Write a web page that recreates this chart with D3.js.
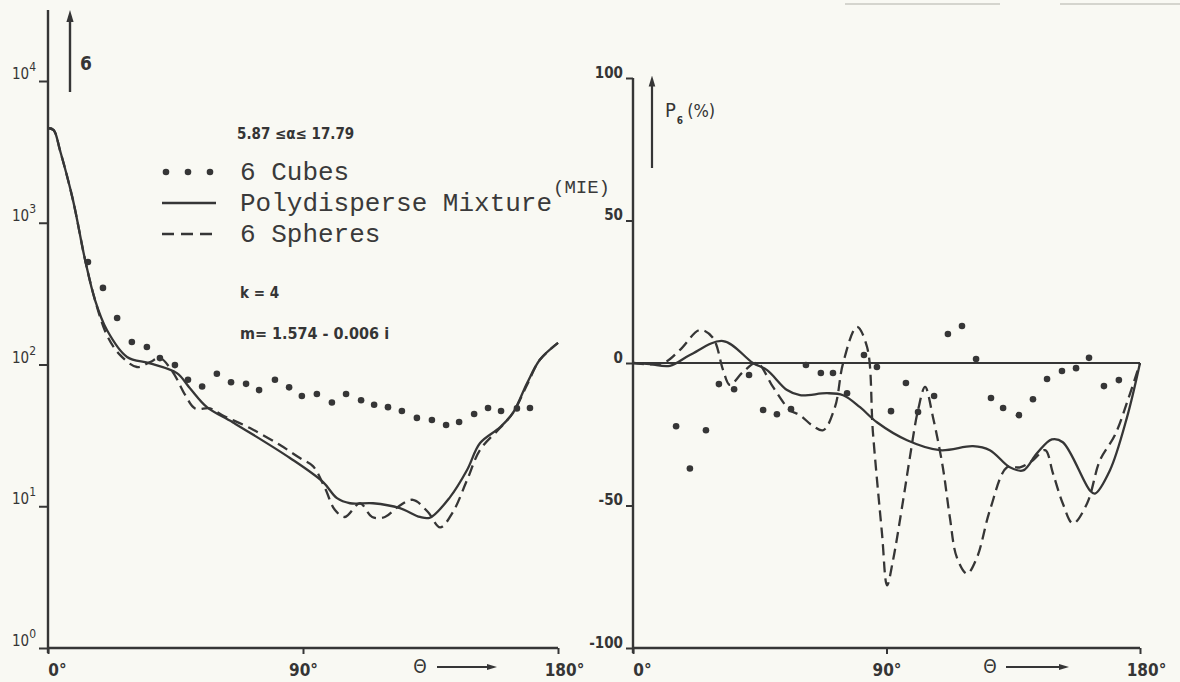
<!DOCTYPE html>
<html>
<head>
<meta charset="utf-8">
<script src="https://cdn.jsdelivr.net/npm/d3@7"></script>
<style>
  body { margin: 0; background: #f9f9f3; }
  svg { display: block; }
  .tick-label { font-family: "DejaVu Sans Condensed", "DejaVu Sans", sans-serif; font-weight: bold; fill: #353535; }
  .legend-text { font-family: "Liberation Mono", "DejaVu Sans Mono", monospace; fill: #3a3a3a; }
</style>
</head>
<body>
<svg width="1180" height="682"></svg>
<script>
"use strict";
// ---- data ----
// left panel: sigma (log) against scattering angle theta
const solidLeftTheta = [0, 2, 4.2, 8.8, 13.1, 16.6, 20.8, 27.9, 36, 45.5, 50.1, 56.1, 65.3, 85.4, 97.1, 102, 106.6, 114.7, 124.2, 131.3, 134.8, 141.9, 147.9, 152.5, 159.5, 164.1, 169.1, 173.6, 180];
const solidLeftValue = [4660, 4500, 3260, 1450, 546, 285, 175, 113, 102, 87, 68, 50, 39, 21.9, 14.8, 11.4, 10.5, 10.5, 9.7, 8.4, 8.3, 11.6, 18, 27.9, 36, 45.5, 74, 108, 142];
const dashedLeftTheta = [0, 2, 4.2, 8.8, 13.1, 16.6, 20.8, 25.4, 31.4, 36, 39.5, 44.1, 48.4, 51.9, 57.2, 61.4, 71.3, 81.9, 88.9, 93.5, 97.7, 101.3, 104.8, 110.1, 114.4, 118.9, 123.5, 128.8, 134.1, 138.4, 142.9, 147.9, 152.5, 159.5, 164.1, 169.1, 173.6, 180];
const dashedLeftValue = [4660, 4500, 3260, 1450, 546, 285, 161, 117, 96, 104, 111, 88, 61, 49, 49, 44, 35.6, 27, 21.9, 19.2, 13.5, 9.4, 8.4, 10.5, 8.4, 8.4, 9.9, 11.1, 9.1, 7.1, 9.1, 15.3, 25, 35.6, 45.5, 72, 108, 142];
const cubesLeftTheta = [14.1, 19.4, 24.4, 29.6, 34.9, 39.5, 44.8, 49.4, 54.4, 59.6, 64.6, 69.9, 74.5, 80.1, 85.1, 89.6, 94.9, 100.2, 105.2, 110.5, 115.1, 120, 124.9, 130.2, 135.5, 140.5, 145.1, 150.4, 155.3, 159.9, 165.5, 170.1];
const cubesLeftValue = [529, 347, 213, 144, 133, 111, 99, 78, 70, 86, 75, 73, 66, 78, 69, 60, 62, 54, 62, 56, 52, 50, 47, 42, 40.6, 37.4, 39.3, 44.8, 49.3, 47, 49, 49.3];

// right panel: polarisation P (%) against theta
const solidRightTheta = [0, 6, 13.1, 20.2, 32, 42.6, 47.6, 54.7, 59.3, 68.9, 74.6, 80.6, 86.6, 97.3, 109, 120.7, 126.7, 133.8, 138.5, 143.4, 148.7, 152.6, 162.2, 164, 169.3, 175.4, 180];
const solidRightValue = [0, -0.4, -1, 2.8, 7.7, 0, -2.5, -9.5, -11.3, -10.6, -11.3, -15.5, -20.8, -27.1, -30.6, -29.2, -30.6, -36.6, -37.7, -31.7, -26.8, -27.8, -44.7, -45.8, -37.7, -19, 0];
const dashedRightTheta = [0, 10.7, 16.7, 23.8, 28.4, 32, 34.4, 39, 44, 49.7, 55.7, 59.3, 63.5, 67.5, 71.7, 74.6, 79.5, 83.1, 85.2, 88.4, 90.2, 92.3, 95.9, 98.3, 101.2, 103.7, 106.5, 110, 112.5, 115, 118.6, 122.1, 126.7, 132.8, 137.4, 142, 146.3, 149.1, 152.6, 156.2, 161.2, 165.8, 171.1, 175.7, 180];
const dashedRightValue = [0, 0, 4.6, 11.6, 8.8, -2.5, -7.7, -3.2, 0, -8.4, -16.5, -18.3, -21.8, -23.6, -15.5, 0, 12.7, 5.6, -24.6, -59.8, -78, -69.3, -48.2, -33.1, -16.5, -8.4, -19, -36.6, -54.2, -68.3, -73.9, -68.3, -51.7, -36.6, -36.6, -34.1, -30.6, -38.7, -49.3, -56.3, -49.3, -34.1, -25.3, -13, 0];
const cubesRightTheta = [15.3, 20.2, 25.9, 30.5, 35.9, 41.2, 46.2, 51.1, 56.1, 61.4, 66.7, 71, 76, 82, 86.6, 91.6, 96.9, 101.2, 106.9, 111.8, 116.8, 121.8, 127.1, 131.4, 137, 142, 147, 152.3, 157.3, 161.9, 167.2, 172.5];
const cubesRightValue = [-22.2, -37, -23.6, -7.4, -9.2, -4.2, -16.5, -18, -16.2, -0.7, -3.5, -3.5, -10.6, 2.8, -1.4, -16.9, -7, -17.2, -11.6, 10.2, 13, 1.4, -12.3, -15.8, -18.3, -12.7, -5.6, -2.8, -1.8, 1.8, -8.1, -6];

// axis ticks
const thetaTicks = [0, 90, 180];
const sigmaTicks = [1, 10, 100, 1000, 10000];
const sigmaExponents = ["0", "1", "2", "3", "4"];
const polTicks = [-100, -50, 0, 50, 100];

// legend
const legendLabels = ["6 Cubes", "Polydisperse Mixture", "6 Spheres"];

const zip = (a, b) => a.map((d, i) => [d, b[i]]);

const svg = d3.select("svg");
const ink = "#363636";

const defs = svg.append("defs");
defs.append("marker")
    .attr("id", "arrow")
    .attr("viewBox", "0 0 10 10")
    .attr("refX", 5).attr("refY", 5)
    .attr("markerWidth", 5).attr("markerHeight", 7)
    .attr("orient", "auto")
    .append("path")
    .attr("d", "M0,2 L10,5 L0,8 Z")
    .attr("fill", ink);

// faint scan marks along the top edge
svg.append("g")
    .selectAll("line")
    .data([[845, 1000], [1060, 1180]])
    .enter()
    .append("line")
    .attr("x1", d => d[0]).attr("x2", d => d[1])
    .attr("y1", 4).attr("y2", 4)
    .attr("stroke", "#c9c9c2").attr("stroke-width", 1.5);

// ---- scales ----
const xL = d3.scaleLinear().domain([0, 180]).range([48, 558]);
const yL = d3.scaleLog().domain([1, 10000]).range([648, 81]);
const xR = d3.scaleLinear().domain([0, 180]).range([633, 1140]);
const yR = d3.scaleLinear().domain([-100, 100]).range([648, 78]);

function styleAxis(g) {
    g.select(".domain").remove();
    g.selectAll(".tick line").attr("stroke", ink).attr("stroke-width", 2);
    g.selectAll(".tick text").attr("class", "tick-label").attr("fill", ink);
}

// ---- left panel ----
const left = svg.append("g");

left.append("line")
    .attr("x1", xL(0)).attr("x2", xL(0))
    .attr("y1", 10).attr("y2", 653)
    .attr("stroke", ink).attr("stroke-width", 2.4);
left.append("line")
    .attr("x1", xL(0)).attr("x2", xL(180))
    .attr("y1", yL(1)).attr("y2", yL(1))
    .attr("stroke", ink).attr("stroke-width", 2.4);

left.append("g")
    .attr("transform", `translate(${xL(0)},0)`)
    .call(d3.axisLeft(yL).tickValues(sigmaTicks).tickSize(9).tickFormat(""))
    .call(styleAxis);

// 10^n labels
left.selectAll("text.sigma")
    .data(sigmaTicks)
    .enter()
    .append("text")
    .attr("class", "tick-label sigma")
    .attr("x", xL(0) - 12)
    .attr("y", d => yL(d) - 2)
    .attr("text-anchor", "end")
    .style("font-size", "15px")
    .style("font-weight", "normal")
    .each(function (d, i) {
        const t = d3.select(this);
        t.append("tspan").text("10");
        t.append("tspan").attr("dy", -8).style("font-size", "12px").text(sigmaExponents[i]);
    });

left.append("g")
    .attr("transform", `translate(0,${yL(1)})`)
    .call(d3.axisBottom(xL).tickValues(thetaTicks).tickSize(6).tickPadding(10).tickFormat(d => `${d}°`))
    .call(styleAxis)
    .call(g => g.selectAll(".tick text").style("font-size", "17px"))
    .call(g => g.selectAll(".tick text").filter(d => d === 0).attr("dx", 9))
    .call(g => g.selectAll(".tick text").filter(d => d === 180).attr("dx", 6));

// sigma arrow
left.append("line")
    .attr("x1", 70).attr("x2", 70)
    .attr("y1", 92).attr("y2", 16)
    .attr("stroke", ink).attr("stroke-width", 2.4)
    .attr("marker-end", "url(#arrow)");
left.append("text")
    .attr("class", "tick-label")
    .attr("x", 80).attr("y", 70)
    .style("font-size", "19px")
    .text("6");

// theta arrow
left.append("text")
    .attr("class", "tick-label")
    .attr("x", 420).attr("y", 673)
    .attr("text-anchor", "middle")
    .style("font-size", "19px")
    .style("font-weight", "normal")
    .text("Θ");
left.append("line")
    .attr("x1", 437).attr("x2", 492)
    .attr("y1", 667).attr("y2", 667)
    .attr("stroke", ink).attr("stroke-width", 2)
    .attr("marker-end", "url(#arrow)");

const lineL = d3.line()
    .x(d => xL(d[0]))
    .y(d => yL(d[1]))
    .curve(d3.curveCatmullRom.alpha(0.5));

left.append("path")
    .datum(zip(solidLeftTheta, solidLeftValue))
    .attr("d", lineL)
    .attr("fill", "none")
    .attr("stroke", ink)
    .attr("stroke-width", 2.3);

left.append("path")
    .datum(zip(dashedLeftTheta, dashedLeftValue))
    .attr("d", lineL)
    .attr("fill", "none")
    .attr("stroke", ink)
    .attr("stroke-width", 2.3)
    .attr("stroke-dasharray", "11,6");

left.selectAll("circle.cube")
    .data(zip(cubesLeftTheta, cubesLeftValue))
    .enter()
    .append("circle")
    .attr("class", "cube")
    .attr("cx", d => xL(d[0]))
    .attr("cy", d => yL(d[1]))
    .attr("r", 3.3)
    .attr("fill", ink);

// annotations and legend
left.append("text")
    .attr("class", "tick-label")
    .attr("x", 237).attr("y", 139)
    .style("font-size", "15px")
    .text("5.87 ≤α≤ 17.79");

const legend = left.append("g").attr("class", "legend");
const legendY = [180, 211, 242];
legend.selectAll("text")
    .data(legendLabels)
    .enter()
    .append("text")
    .attr("class", "legend-text")
    .attr("x", 240)
    .attr("y", (d, i) => legendY[i])
    .style("font-size", "26px")
    .text(d => d);
legend.selectAll("circle")
    .data([166, 188, 210])
    .enter()
    .append("circle")
    .attr("cx", d => d)
    .attr("cy", legendY[0] - 8)
    .attr("r", 3.3)
    .attr("fill", ink);
legend.append("line")
    .attr("x1", 162).attr("x2", 216)
    .attr("y1", legendY[1] - 8).attr("y2", legendY[1] - 8)
    .attr("stroke", ink).attr("stroke-width", 2.3);
legend.append("line")
    .attr("x1", 162).attr("x2", 216)
    .attr("y1", legendY[2] - 8).attr("y2", legendY[2] - 8)
    .attr("stroke", ink).attr("stroke-width", 2.3)
    .attr("stroke-dasharray", "12,7");
legend.append("text")
    .attr("class", "legend-text")
    .attr("x", 553).attr("y", 193)
    .style("font-size", "19px")
    .text("(MIE)");

left.append("text")
    .attr("class", "tick-label")
    .attr("x", 240).attr("y", 298)
    .style("font-size", "15px")
    .text("k = 4");
left.append("text")
    .attr("class", "tick-label")
    .attr("x", 240).attr("y", 339)
    .style("font-size", "16px")
    .text("m= 1.574 - 0.006 i");

// ---- right panel ----
const right = svg.append("g");

right.append("line")
    .attr("x1", xR(0)).attr("x2", xR(0))
    .attr("y1", yR(100)).attr("y2", 653)
    .attr("stroke", ink).attr("stroke-width", 2.4);
right.append("line")
    .attr("x1", xR(0)).attr("x2", xR(180))
    .attr("y1", yR(-100)).attr("y2", yR(-100))
    .attr("stroke", ink).attr("stroke-width", 2.4);
// zero line
right.append("line")
    .attr("x1", xR(0)).attr("x2", xR(180))
    .attr("y1", yR(0)).attr("y2", yR(0))
    .attr("stroke", ink).attr("stroke-width", 2.2);

right.append("g")
    .attr("transform", `translate(${xR(0)},0)`)
    .call(d3.axisLeft(yR).tickValues(polTicks).tickSize(7).tickPadding(3).tickFormat(d => d))
    .call(styleAxis)
    .call(g => g.selectAll(".tick text").style("font-size", "15px").attr("dy", "-0.05em"));

right.append("g")
    .attr("transform", `translate(0,${yR(-100)})`)
    .call(d3.axisBottom(xR).tickValues(thetaTicks).tickSize(6).tickPadding(10).tickFormat(d => `${d}°`))
    .call(styleAxis)
    .call(g => g.selectAll(".tick text").style("font-size", "17px"))
    .call(g => g.selectAll(".tick text").filter(d => d === 0).attr("dx", 9))
    .call(g => g.selectAll(".tick text").filter(d => d === 180).attr("dx", 6));

// P arrow
right.append("line")
    .attr("x1", 652).attr("x2", 652)
    .attr("y1", 168).attr("y2", 81)
    .attr("stroke", ink).attr("stroke-width", 2.2)
    .attr("marker-end", "url(#arrow)");
const pLabel = right.append("text")
    .attr("class", "tick-label")
    .attr("x", 665).attr("y", 117)
    .style("font-size", "20px")
    .style("font-weight", "normal");
pLabel.append("tspan").text("P");
pLabel.append("tspan").attr("dy", 7).attr("dx", 1).style("font-size", "10px").style("font-weight", "bold").text("6");
pLabel.append("tspan").attr("dy", -7).attr("dx", 4).style("font-size", "18px").text("(%)");

right.append("text")
    .attr("class", "tick-label")
    .attr("x", 990).attr("y", 673)
    .attr("text-anchor", "middle")
    .style("font-size", "19px")
    .style("font-weight", "normal")
    .text("Θ");
right.append("line")
    .attr("x1", 1006).attr("x2", 1064)
    .attr("y1", 667).attr("y2", 667)
    .attr("stroke", ink).attr("stroke-width", 2)
    .attr("marker-end", "url(#arrow)");

const lineR = d3.line()
    .x(d => xR(d[0]))
    .y(d => yR(d[1]))
    .curve(d3.curveCatmullRom.alpha(0.5));

right.append("path")
    .datum(zip(solidRightTheta, solidRightValue))
    .attr("d", lineR)
    .attr("fill", "none")
    .attr("stroke", ink)
    .attr("stroke-width", 2.3);

right.append("path")
    .datum(zip(dashedRightTheta, dashedRightValue))
    .attr("d", lineR)
    .attr("fill", "none")
    .attr("stroke", ink)
    .attr("stroke-width", 2.3)
    .attr("stroke-dasharray", "11,6");

right.selectAll("circle.cube")
    .data(zip(cubesRightTheta, cubesRightValue))
    .enter()
    .append("circle")
    .attr("class", "cube")
    .attr("cx", d => xR(d[0]))
    .attr("cy", d => yR(d[1]))
    .attr("r", 3.3)
    .attr("fill", ink);
</script>
</body>
</html>
